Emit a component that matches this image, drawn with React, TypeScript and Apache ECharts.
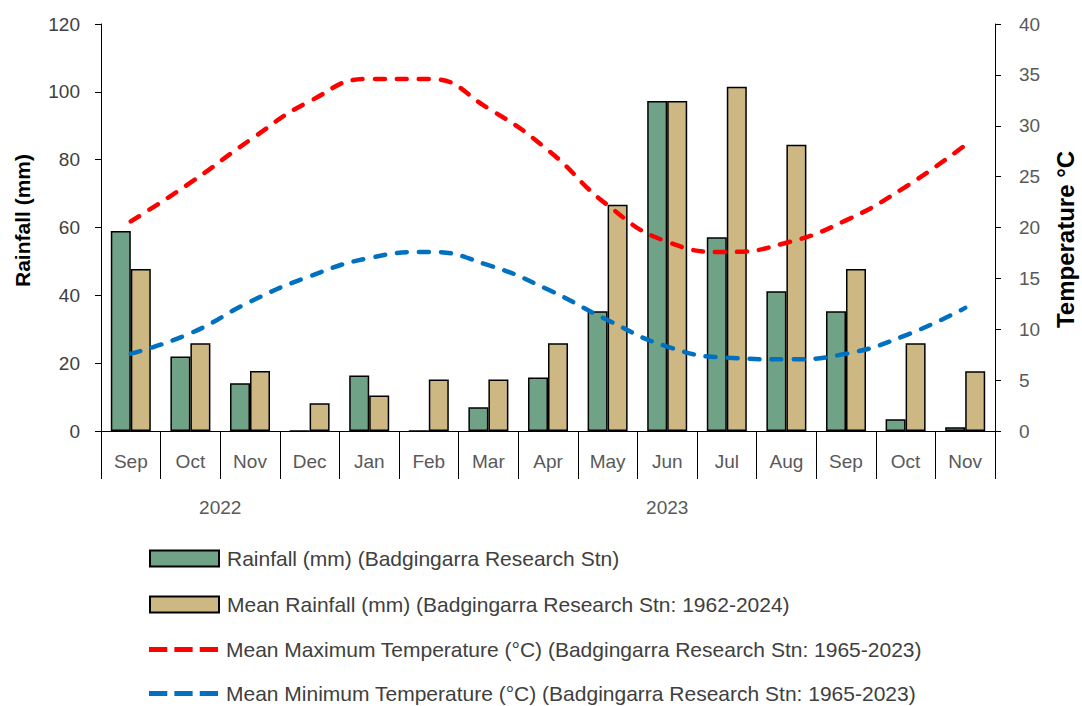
import React, { useEffect, useRef } from "react";
import * as echarts from "echarts";

const months = ["Sep", "Oct", "Nov", "Dec", "Jan", "Feb", "Mar", "Apr", "May", "Jun", "Jul", "Aug", "Sep", "Oct", "Nov"];
const yearLabels = ["2022", "2023"];
const rainfall = [59, 22, 14.1, 0, 16.4, 0, 7, 15.8, 35.3, 97.3, 57.1, 41.2, 35.3, 3.5, 1.1];
const meanRainfall = [47.8, 25.9, 17.7, 8.2, 10.5, 15.2, 15.2, 25.9, 66.7, 97.3, 101.5, 84.4, 47.8, 25.9, 17.6];
const meanMax = [20.6, 24.4, 28.6, 32.4, 34.6, 34.6, 31.7, 27.6, 22.2, 18.6, 17.6, 18.5, 20.7, 24.0, 28.1];
const meanMin = [7.6, 9.6, 12.7, 15.2, 17.0, 17.6, 16.3, 13.9, 10.9, 8.3, 7.2, 7.05, 7.6, 9.4, 12.1];

const names = [
  "Rainfall (mm) (Badgingarra Research Stn)",
  "Mean Rainfall (mm) (Badgingarra Research Stn: 1962-2024)",
  "Mean Maximum Temperature (°C) (Badgingarra Research Stn: 1965-2023)",
  "Mean Minimum Temperature (°C) (Badgingarra Research Stn: 1965-2023)",
];

const FONT = "'Liberation Sans', Arial, sans-serif";
const DASH_ICON = "path://M0,0h18v5H0z M25,0h18v5H25z M50,0h18v5H50z";

export default function App() {
  const ref = useRef<HTMLDivElement>(null);
  useEffect(() => {
    document.body.style.margin = "0";
    const chart = echarts.init(ref.current!, null, { renderer: "svg" });
    const legendTops = [543, 589, 634, 678];
    const legends = names.map((n, i) => ({
      orient: "vertical",
      left: 144,
      top: legendTops[i],
      itemWidth: 69,
      itemHeight: 16,
      selectedMode: false,
      textStyle: { fontFamily: FONT, fontSize: 21, color: "#404040", padding: [0, 0, 0, 3] },
      data: [{ name: n, icon: i < 2 ? "rect" : DASH_ICON }],
    }));
    chart.setOption({
      animation: false,
      textStyle: { fontFamily: FONT },
      grid: { left: 101, right: 87, top: 24, bottom: 275, containLabel: false, outerBoundsMode: "none" },
      legend: legends,
      xAxis: [
        {
          type: "category",
          data: months,
          boundaryGap: true,
          axisLine: { lineStyle: { color: "#000", width: 1 } },
          axisTick: { show: true, interval: 0, length: 48, lineStyle: { color: "#000" } },
          axisLabel: { interval: 0, margin: 21, fontSize: 19, color: "#595959", fontFamily: FONT },
        },
        {
          type: "value",
          min: 0,
          max: 15,
          position: "bottom",
          offset: 48,
          axisLine: { show: false },
          splitLine: { show: false },
          axisTick: { show: true, customValues: [0, 4, 15], length: 46, lineStyle: { color: "#000" } },
          axisLabel: {
            customValues: [2, 9.5],
            formatter: (v: number) => (v < 5 ? yearLabels[0] : yearLabels[1]),
            margin: 19,
            fontSize: 19,
            color: "#595959",
            fontFamily: FONT,
          },
        },
      ],
      yAxis: [
        {
          type: "value",
          min: 0,
          max: 120,
          interval: 20,
          position: "left",
          name: "Rainfall (mm)",
          nameLocation: "middle",
          nameGap: 68,
          nameTextStyle: { fontWeight: "bold", fontSize: 21, color: "#000", fontFamily: FONT, padding: [0, 0, 0, 14] },
          axisLine: { show: true, lineStyle: { color: "#000" } },
          axisTick: { show: true, length: 6, lineStyle: { color: "#000" } },
          axisLabel: { margin: 21, fontSize: 19, color: "#404040", fontFamily: FONT },
          splitLine: { show: false },
        },
        {
          type: "value",
          min: 0,
          max: 40,
          interval: 5,
          position: "right",
          name: "Temperature °C",
          nameLocation: "middle",
          nameGap: 58,
          nameRotate: 90,
          nameTextStyle: { fontWeight: "bold", fontSize: 24, color: "#000", fontFamily: FONT, padding: [0, 24, 0, 0] },
          axisLine: { show: true, lineStyle: { color: "#000" } },
          axisTick: { show: true, length: 6, lineStyle: { color: "#000" } },
          axisLabel: { margin: 24, fontSize: 19, color: "#595959", fontFamily: FONT },
          splitLine: { show: false },
        },
      ],
      series: [
        {
          name: names[0],
          type: "bar",
          data: rainfall,
          barWidth: 20,
          barGap: "0%",
          itemStyle: { color: "#70A288", borderColor: "#000", borderWidth: 1.5 },
        },
        {
          name: names[1],
          type: "bar",
          data: meanRainfall,
          barWidth: 20,
          barGap: "0%",
          itemStyle: { color: "#CDB884", borderColor: "#000", borderWidth: 1.5 },
        },
        {
          name: names[2],
          type: "line",
          yAxisIndex: 1,
          data: meanMax,
          smooth: true,
          symbol: "none",
          lineStyle: { color: "#FF0000", width: 4.5, type: [10, 12], cap: "round" },
          itemStyle: { color: "#FF0000" },
        },
        {
          name: names[3],
          type: "line",
          yAxisIndex: 1,
          data: meanMin,
          smooth: true,
          symbol: "none",
          lineStyle: { color: "#0070C0", width: 4.5, type: [10, 12], cap: "round" },
          itemStyle: { color: "#0070C0" },
        },
      ],
    });
    return () => chart.dispose();
  }, []);
  return <div ref={ref} style={{ width: 1082, height: 706 }} />;
}
